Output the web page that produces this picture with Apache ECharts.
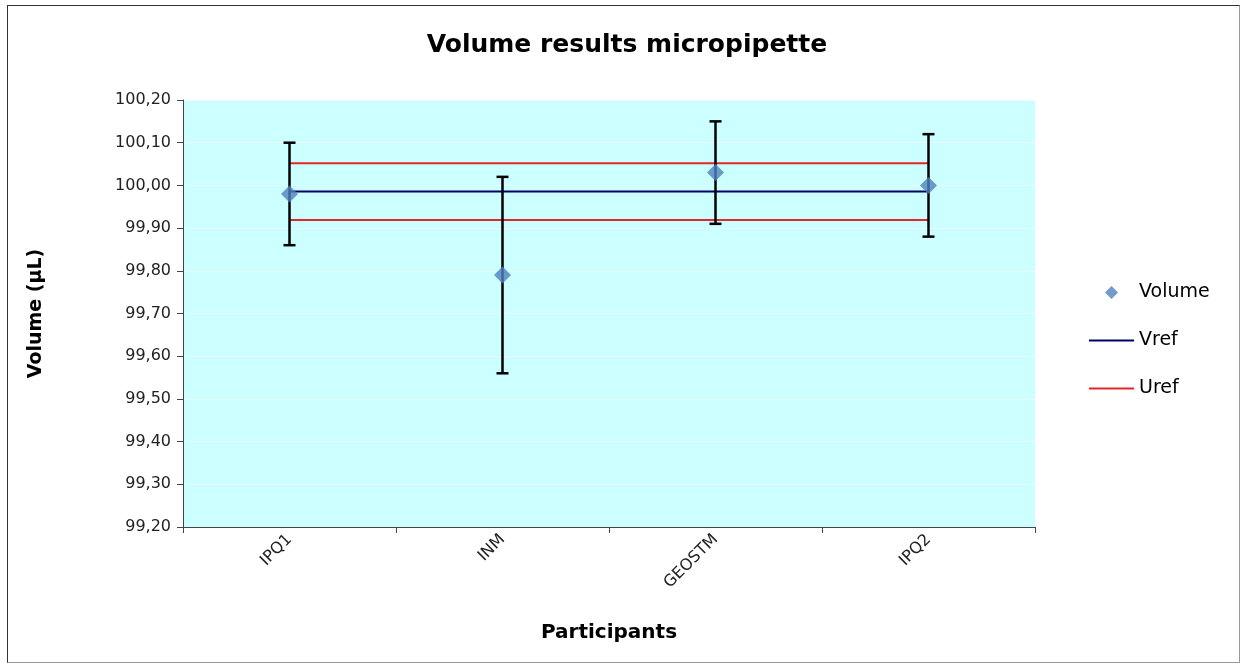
<!DOCTYPE html>
<html>
<head>
<meta charset="utf-8">
<script src="https://cdn.jsdelivr.net/npm/echarts@6/dist/echarts.min.js"></script>
<style>
    html, body { margin: 0; padding: 0; background: #fff; }
    #frame { position: absolute; left: 7px; top: 5px; width: 1231px; height: 656px; border: 1px solid #333; border-right-color: #999; border-bottom-color: #999; }
    #chart { position: absolute; left: 0; top: 0; width: 1247px; height: 668px; }
</style>
</head>
<body>
<div id="frame"></div>
<div id="chart"></div>
<script>
    // participants
    var categories = ['IPQ1', 'INM', 'GEOSTM', 'IPQ2'];
    // measured volume (µL) and its expanded uncertainty
    var volume = [99.98, 99.79, 100.03, 100.00];
    var errLow = [99.86, 99.56, 99.91, 99.88];
    var errHigh = [100.10, 100.02, 100.15, 100.12];
    // reference value and its uncertainty band
    var vref = [99.986, 99.986, 99.986, 99.986];
    var urefUpper = [100.052, 100.052, 100.052, 100.052];
    var urefLower = [99.919, 99.919, 99.919, 99.919];
    var yTicks = { min: 99.2, max: 100.2, step: 0.1 };

    var font = 'DejaVu Sans';
    var chart = echarts.init(document.getElementById('chart'));

    var errData = categories.map(function (c, i) {
        return [i, errLow[i], errHigh[i]];
    });

    var option = {
        animation: false,
        title: {
            text: 'Volume results micropipette',
            left: 622,
            textAlign: 'center',
            top: 28,
            textStyle: { fontFamily: font, fontSize: 25, fontWeight: 'bold', color: '#000' }
        },
        legend: {
            orient: 'vertical',
            left: 1083,
            top: 278,
            itemGap: 29,
            itemWidth: 45,
            itemHeight: 13,
            textStyle: { fontFamily: font, fontSize: 19, color: '#000' },
            data: [
                { name: 'Volume', icon: 'path://M5,0L10,5L5,10L0,5Z', itemStyle: { color: '#4F81BD' } },
                { name: 'Vref', itemStyle: { opacity: 0 }, lineStyle: { color: '#000066', width: 2 } },
                { name: 'Uref', itemStyle: { opacity: 0 }, lineStyle: { color: '#E0282A', width: 2 } }
            ]
        },
        grid: { left: 183, right: 212, top: 100, bottom: 141 },
        xAxis: {
            type: 'category',
            data: categories,
            boundaryGap: true,
            name: 'Participants',
            nameLocation: 'middle',
            nameGap: 96,
            nameTextStyle: { fontFamily: font, fontSize: 20, fontWeight: 'bold', color: '#000' },
            axisLine: { lineStyle: { color: '#444', width: 1 } },
            axisTick: { show: true, length: 6, alignWithLabel: false, lineStyle: { color: '#444' } },
            axisLabel: { rotate: 45, fontFamily: font, fontSize: 16, color: '#222', margin: 10 },
            splitLine: { show: false }
        },
        yAxis: {
            type: 'value',
            min: yTicks.min,
            max: yTicks.max,
            interval: yTicks.step,
            name: 'Volume (µL)',
            nameLocation: 'middle',
            nameGap: 137,
            nameRotate: 90,
            nameTextStyle: { fontFamily: font, fontSize: 19, fontWeight: 'bold', color: '#000' },
            axisLine: { show: true, lineStyle: { color: '#444', width: 1 } },
            axisTick: { show: true, inside: false, length: 6, lineStyle: { color: '#444' } },
            axisLabel: {
                fontFamily: font, fontSize: 16, color: '#222', margin: 12,
                formatter: function (v) { return v.toFixed(2).replace('.', ','); }
            },
            splitLine: { show: true, lineStyle: { color: '#E8FAFA', width: 1 } },
            splitArea: { show: true, areaStyle: { color: ['#CCFFFF', '#CCFFFF'] } }
        },
        series: [
            {
                name: 'Vref',
                type: 'line',
                data: vref,
                symbol: 'none',
                lineStyle: { color: '#000066', width: 2 },
                itemStyle: { color: '#000066' },
                z: 2
            },
            {
                name: 'Uref',
                type: 'line',
                data: urefUpper,
                symbol: 'none',
                lineStyle: { color: '#E0282A', width: 2 },
                itemStyle: { color: '#E0282A' },
                z: 2
            },
            {
                name: 'Uref',
                type: 'line',
                data: urefLower,
                symbol: 'none',
                lineStyle: { color: '#E0282A', width: 2 },
                itemStyle: { color: '#E0282A' },
                z: 2
            },
            {
                name: 'errors',
                type: 'custom',
                data: errData,
                z: 3,
                renderItem: function (params, api) {
                    var x = api.value(0);
                    var lo = api.coord([x, api.value(1)]);
                    var hi = api.coord([x, api.value(2)]);
                    var half = 6;
                    var st = { stroke: '#000', lineWidth: 2.5 };
                    return {
                        type: 'group',
                        children: [
                            { type: 'line', shape: { x1: hi[0], y1: hi[1], x2: lo[0], y2: lo[1] }, style: st },
                            { type: 'line', shape: { x1: hi[0] - half, y1: hi[1], x2: hi[0] + half, y2: hi[1] }, style: st },
                            { type: 'line', shape: { x1: lo[0] - half, y1: lo[1], x2: lo[0] + half, y2: lo[1] }, style: st }
                        ]
                    };
                }
            },
            {
                name: 'Volume',
                type: 'scatter',
                data: volume,
                symbol: 'diamond',
                symbolSize: 17,
                symbolKeepAspect: true,
                itemStyle: { color: '#4F81BD' },
                z: 4
            }
        ]
    };

    chart.setOption(option);
</script>
</body>
</html>
